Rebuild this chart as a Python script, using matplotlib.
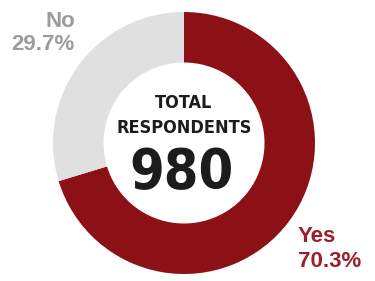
import matplotlib
matplotlib.use("Agg")
import matplotlib.pyplot as plt

# survey answers
labels = ["Yes", "No"]
shares = [70.3, 29.7]
total = 980
colors = ["#8c1116", "#e0e0e0"]
label_colors = ["#9a1f2a", "#9c9c9c"]

W, H = 375, 281
fig = plt.figure(figsize=(W / 100, H / 100), dpi=100)
ax = fig.add_axes([0, 0, 1, 1])

# donut, yes starts at 12 o'clock and runs clockwise
ax.pie(shares, colors=colors, startangle=90, counterclock=False,
       center=(184, H - 143), radius=131, frame=True,
       wedgeprops=dict(width=50.5, linewidth=0))
ax.set_xlim(0, W)
ax.set_ylim(0, H)
ax.axis("off")

# centre text in a condensed face
cond = dict(family="DejaVu Sans", fontweight="bold", fontstretch="condensed",
            ha="center", va="baseline", color="#1c1c1c")
ax.text(184, H - 108, "TOTAL", fontsize=13, **cond)
ax.text(184, H - 133, "RESPONDENTS", fontsize=13, **cond)
ax.text(182, H - 188, str(total), fontsize=40, **cond)

# slice labels
lab = dict(family="Liberation Sans", fontweight="bold", fontsize=16, va="baseline")
ax.text(75, H - 27, labels[1], ha="right", color=label_colors[1], **lab)
ax.text(75, H - 50, f"{shares[1]}%", ha="right", color=label_colors[1], **lab)
ax.text(298, H - 242, labels[0], ha="left", color=label_colors[0], **lab)
ax.text(298, H - 267, f"{shares[0]}%", ha="left", color=label_colors[0], **lab)

fig.savefig("out.png", dpi=100, facecolor="white")
